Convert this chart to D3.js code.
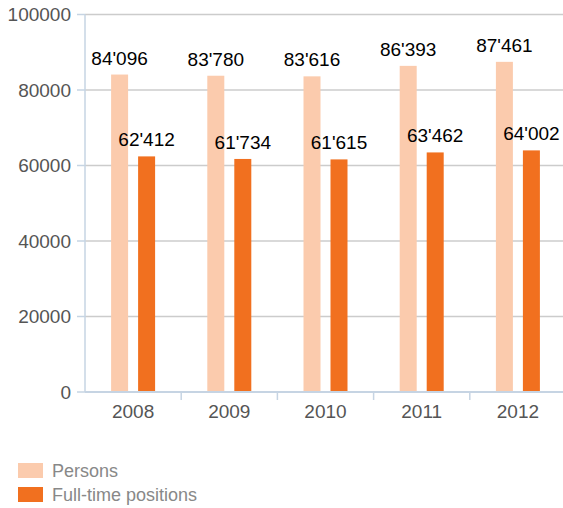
<!DOCTYPE html>
<html>
<head>
<meta charset="utf-8">
<script src="https://cdn.jsdelivr.net/npm/d3@7"></script>
<style>
  body { margin: 0; background: #fff; }
  svg { display: block; font-family: "Liberation Sans", Arial, sans-serif; }
</style>
</head>
<body>
<div id="chart"></div>
<script>
// Data
const years = ["2008", "2009", "2010", "2011", "2012"];
const persons = [84096, 83780, 83616, 86393, 87461];
const fullTime = [62412, 61734, 61615, 63462, 64002];
const yTicks = [0, 20000, 40000, 60000, 80000, 100000];
const seriesNames = ["Persons", "Full-time positions"];
const seriesColors = ["#fbcbad", "#f1701f"];

const W = 563, H = 508;
const x0 = 85, x1 = 566, yBottom = 392, yTop = 14.5;

const svg = d3.select("#chart").append("svg")
    .attr("width", W)
    .attr("height", H);

const x = d3.scaleBand().domain(years).range([x0, x1]);
const y = d3.scaleLinear().domain([0, 100000]).range([yBottom, yTop]);

const fmt = v => d3.format(",")(v).replace(/,/g, "'");

// Gridlines
svg.append("g").selectAll("line")
    .data(yTicks.filter(d => d > 0))
    .enter().append("line")
    .attr("x1", x0)
    .attr("x2", W)
    .attr("y1", d => y(d))
    .attr("y2", d => y(d))
    .style("stroke", "#cccccc")
    .style("stroke-width", 1.5);

// Y tick marks + labels
svg.append("g").selectAll("line")
    .data(yTicks)
    .enter().append("line")
    .attr("x1", 77)
    .attr("x2", x0)
    .attr("y1", d => y(d))
    .attr("y2", d => y(d))
    .style("stroke", "#c6d4e3")
    .style("stroke-width", 1.5);

svg.append("g").selectAll("text")
    .data(yTicks)
    .enter().append("text")
    .attr("x", 71)
    .attr("y", d => y(d))
    .attr("dy", "0.36em")
    .style("text-anchor", "end")
    .style("font-size", "19px")
    .style("fill", "#555")
    .text(d => d);

// Y axis line
svg.append("line")
    .attr("x1", x0).attr("x2", x0)
    .attr("y1", y(100000)).attr("y2", yBottom)
    .style("stroke", "#c6d4e3")
    .style("stroke-width", 1.5);

// Bars
const barW = 17, gap = 10;
const series = [persons, fullTime];
series.forEach((vals, si) => {
    const offset = si === 0 ? -(gap / 2 + barW) : gap / 2;
    const g = svg.append("g");
    g.selectAll("rect")
        .data(vals)
        .enter().append("rect")
        .attr("x", (d, i) => x(years[i]) + x.bandwidth() / 2 + offset)
        .attr("y", d => y(d))
        .attr("width", barW)
        .attr("height", d => yBottom - y(d))
        .style("fill", seriesColors[si]);
    g.selectAll("text")
        .data(vals)
        .enter().append("text")
        .attr("x", (d, i) => x(years[i]) + x.bandwidth() / 2 + offset + barW / 2)
        .attr("y", d => y(d) - 10)
        .style("text-anchor", "middle")
        .style("font-size", "19px")
        .style("fill", "#000")
        .text(d => fmt(d));
});

// X axis
svg.append("line")
    .attr("x1", x0).attr("x2", W)
    .attr("y1", yBottom).attr("y2", yBottom)
    .style("stroke", "#c6d4e3")
    .style("stroke-width", 2);

svg.append("g").selectAll("line")
    .data(years.slice(1))
    .enter().append("line")
    .attr("x1", d => x(d)).attr("x2", d => x(d))
    .attr("y1", yBottom).attr("y2", yBottom + 8)
    .style("stroke", "#c6d4e3")
    .style("stroke-width", 1.5);

svg.append("g").selectAll("text")
    .data(years)
    .enter().append("text")
    .attr("x", d => x(d) + x.bandwidth() / 2)
    .attr("y", 418)
    .style("text-anchor", "middle")
    .style("font-size", "19px")
    .style("fill", "#555")
    .text(d => d);

// Legend
const legend = svg.selectAll(".legend")
    .data(seriesNames)
    .enter().append("g")
    .attr("class", "legend")
    .attr("transform", (d, i) => `translate(18, ${463 + i * 24})`);

legend.append("rect")
    .attr("width", 25)
    .attr("height", 15)
    .style("fill", (d, i) => seriesColors[i]);

legend.append("text")
    .attr("x", 34)
    .attr("y", 14)
    .style("font-size", "18px")
    .style("fill", "#888")
    .text(d => d);
</script>
</body>
</html>
